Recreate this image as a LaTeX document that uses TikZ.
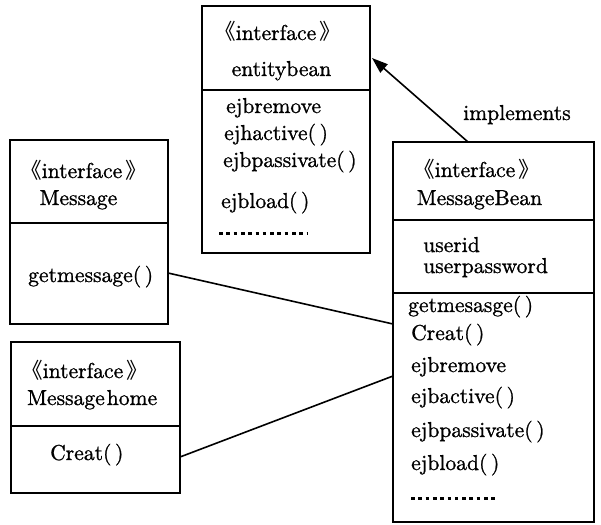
\documentclass[tikz,border=0pt]{standalone}
\usepackage{fontspec}
\setmainfont{lmroman10-regular.otf}[FakeBold=1]
\newfontfamily\cjk{Noto Sans CJK SC}
\usetikzlibrary{arrows.meta,calc}
\newcommand{\myLq}{{\cjk 《}}
\newcommand{\myRq}{\hspace{3pt}{\cjk 》}}
\begin{document}
\begin{tikzpicture}[x=1pt,y=-1pt,
  box/.style={draw,line width=1.8pt,inner sep=0pt,outer sep=0pt},
  txt/.style={anchor=base west,inner sep=0pt,font=\fontsize{21.6}{22}\selectfont},
  ctxt/.style={anchor=base,inner sep=0pt,font=\fontsize{21.6}{22}\selectfont},
  conn/.style={line width=1.6pt},
  divider/.style={line width=1.8pt},
  dots/.style={line width=3pt,dash pattern=on 3.6pt off 3.7pt}]
\useasboundingbox (0,0) rectangle (601,524);
% entitybean box
\node[box,minimum width=168pt,minimum height=247pt] (eb) at (286,129.5) {};
\draw[divider] (eb.west |- 0,90) -- (eb.east |- 0,90);
\node[ctxt] (ebs) at (277.5,40) {\myLq interface\myRq};
\node[ctxt] (ebn) at (281.5,76) {entitybean};
\node[txt] (eb1) at (226,113) {ejbremove};
\node[txt] (eb2) at (224,140) {ejhactive(\,)};
\node[txt] (eb3) at (223,167) {ejbpassivate(\,)};
\node[txt] (eb4) at (221,208) {ejbload(\,)};
\draw[dots] (219,233) -- (307,233);
% MessageBean box
\node[box,minimum width=201pt,minimum height=380pt] (mb) at (493.5,332) {};
\draw[divider] (mb.west |- 0,220) -- (mb.east |- 0,220);
\draw[divider] (mb.west |- 0,293) -- (mb.east |- 0,293);
\node[ctxt] (mbs) at (476.5,177) {\myLq interface\myRq};
\node[ctxt] (mbn) at (479.5,205) {MessageBean};
\node[txt] (mb1) at (423,252) {userid};
\node[txt] (mb2) at (423,273) {userpassword};
\node[txt] (mb3) at (408,312) {getmesasge(\,)};
\node[txt] (mb4) at (411,340) {Creat(\,)};
\node[txt] (mb5) at (411,372) {ejbremove};
\node[txt] (mb6) at (411,403) {ejbactive(\,)};
\node[txt] (mb7) at (411,437) {ejbpassivate(\,)};
\node[txt] (mb8) at (411,470) {ejbload(\,)};
\draw[dots] (411,498) -- (498,498);
% Message box
\node[box,minimum width=158pt,minimum height=184pt] (m) at (89,232) {};
\draw[divider] (m.west |- 0,223) -- (m.east |- 0,223);
\node[ctxt] (ms) at (83.5,178) {\myLq interface\myRq};
\node[ctxt] (mn) at (78.5,205) {Message};
\node[txt] (m1) at (28,282) {getmessage(\,)};
% Messagehome box
\node[box,minimum width=169pt,minimum height=151pt] (mh) at (95.5,417.5) {};
\draw[divider] (mh.west |- 0,426) -- (mh.east |- 0,426);
\node[ctxt] (mhs) at (84.5,378) {\myLq interface\myRq};
\node[txt] (mhn) at (27,405) {Message\hspace{2pt}home};
\node[txt] (mh1) at (50,460) {Creat(\,)};
% connector points
\coordinate (mA) at (m.east |- 0,273);
\coordinate (mbA) at (mb.west |- 0,324);
\coordinate (mhA) at (mh.east |- 0,457);
\coordinate (mbB) at (mb.west |- 0,376);
\coordinate (mbT) at (468,142);
\coordinate (ebR) at (372,58);
\draw[conn] (mA) -- (mbA);
\draw[conn] (mhA) -- (mbB);
\draw[conn,-{Triangle[length=16pt,width=11pt]}] (mbT) -- (ebR);
\node[txt] (impl) at (463,120) {implements};
\end{tikzpicture}
\end{document}
